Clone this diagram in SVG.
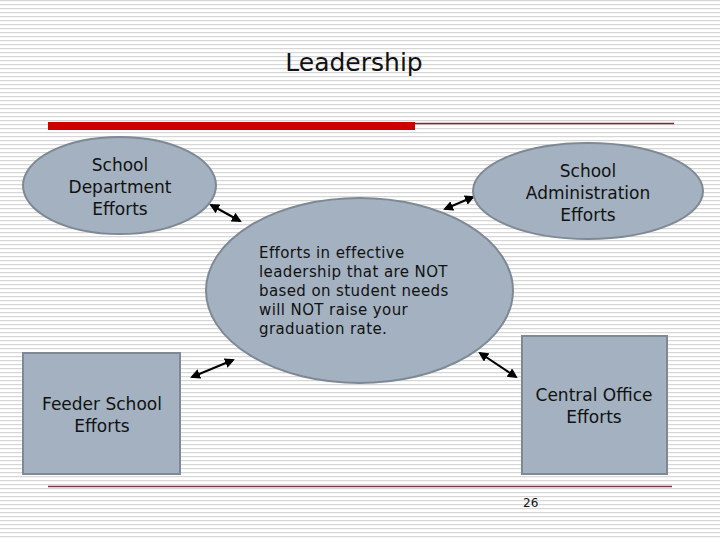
<svg xmlns="http://www.w3.org/2000/svg" width="720" height="540" viewBox="0 0 720 540">
  <style>
    .node { fill: #a3b1c0; stroke: #7e8994; stroke-width: 2; }
    .lbl { font-family: "DejaVu Sans", Verdana, sans-serif; font-size: 17px; fill: #111; text-anchor: middle; }
    .body { font-family: "DejaVu Sans", Verdana, sans-serif; font-size: 15px; fill: #111; letter-spacing: 0.4px; }
    .conn { stroke: #000; stroke-width: 2; fill: none; marker-start: url(#ah); marker-end: url(#ah); }
  </style>
  <defs>
    <pattern id="stripes" width="8" height="4" patternUnits="userSpaceOnUse">
      <rect width="8" height="4" fill="#ffffff"/>
      <rect y="0" width="8" height="1.2" fill="#d6d6d6"/>
    </pattern>
    <marker id="ah" viewBox="0 0 10 10" refX="8" refY="5" markerWidth="5" markerHeight="5" orient="auto-start-reverse" markerUnits="strokeWidth">
      <path d="M0,0 L10,5 L0,10 Z" fill="#000"/>
    </marker>
  </defs>
  <rect width="720" height="540" fill="url(#stripes)"/>

  <text x="354" y="71" font-family="DejaVu Sans, Verdana, sans-serif" font-size="25" fill="#111" text-anchor="middle">Leadership</text>
  <rect x="48" y="122" width="367" height="8" fill="#cc0000"/>
  <line x1="415" y1="123.5" x2="674" y2="123.5" stroke="#7a2a36" stroke-width="1.3"/>
  <line x1="48" y1="486.5" x2="672" y2="486.5" stroke="#7a3a44" stroke-width="1.3"/>

  <g id="connectors">
    <line class="conn" x1="211" y1="205" x2="240" y2="221"/>
    <line class="conn" x1="445" y1="209" x2="473" y2="197"/>
    <line class="conn" x1="192" y1="377" x2="233" y2="360"/>
    <line class="conn" x1="480" y1="353" x2="516" y2="377"/>
  </g>

  <g id="school-department">
    <ellipse class="node" cx="119.5" cy="185.5" rx="96.5" ry="48.5"/>
    <text class="lbl" x="120" y="170.5">School</text>
    <text class="lbl" x="120" y="192.5">Department</text>
    <text class="lbl" x="120" y="214.5">Efforts</text>
  </g>

  <g id="school-administration">
    <ellipse class="node" cx="588" cy="191" rx="115" ry="48"/>
    <text class="lbl" x="588" y="176.5">School</text>
    <text class="lbl" x="588" y="198.5">Administration</text>
    <text class="lbl" x="588" y="220.5">Efforts</text>
  </g>

  <g id="center">
    <ellipse class="node" cx="359.5" cy="290.5" rx="153.5" ry="92.5"/>
    <text class="body" x="259" y="258">Efforts in effective</text>
    <text class="body" x="259" y="277">leadership that are NOT</text>
    <text class="body" x="259" y="296">based on student needs</text>
    <text class="body" x="259" y="315">will NOT raise your</text>
    <text class="body" x="259" y="334">graduation rate.</text>
  </g>

  <g id="feeder-school">
    <rect class="node" x="23" y="353" width="157" height="121"/>
    <text class="lbl" x="102" y="410">Feeder School</text>
    <text class="lbl" x="102" y="432">Efforts</text>
  </g>

  <g id="central-office">
    <rect class="node" x="522" y="336" width="145" height="138"/>
    <text class="lbl" x="594" y="401">Central Office</text>
    <text class="lbl" x="594" y="423">Efforts</text>
  </g>

  <text x="523" y="507" font-family="DejaVu Sans, Verdana, sans-serif" font-size="12" fill="#111">26</text>
</svg>
